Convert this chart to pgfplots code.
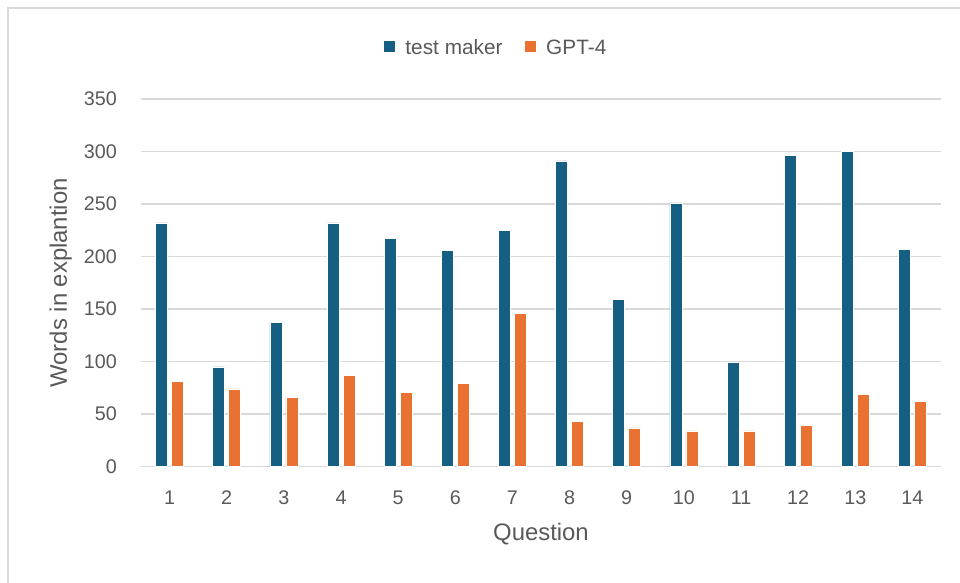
\documentclass[border=0pt]{standalone}
\usepackage{fontspec}
\setmainfont{Liberation Sans}
\usepackage{pgfplots}
\pgfplotsset{compat=1.18}
\definecolor{tmblue}{HTML}{156082}
\definecolor{gptorange}{HTML}{E97132}
\definecolor{gridgray}{HTML}{D9D9D9}
\definecolor{textgray}{HTML}{595959}
\begin{document}
\begin{tikzpicture}
% page frame, 1px = 0.75pt
\path[use as bounding box] (-105.75pt,-87.2pt) rectangle (614.25pt,350pt);
\draw[gridgray, line width=1.5pt] (-100.1pt,-87.2pt) -- (-100.1pt,344pt) -- (614.25pt,344pt);
\begin{axis}[
    at={(0,0)}, anchor=south west,
    scale only axis, width=600pt, height=275.75pt,
    ybar=3pt, bar width=9pt,
    xmin=0.5, xmax=14.5, ymin=0, ymax=350,
    xtick={1,...,14}, ytick={0,50,...,350},
    axis line style={draw=none},
    major tick length=0pt,
    ymajorgrids, grid style={gridgray, line width=1.2pt},
    /pgf/number format/assume math mode=true,
    tick label style={text=textgray, font=\fontsize{14.8}{17}\selectfont},
    xticklabel style={anchor=base, yshift=-28pt, inner sep=0pt},
    yticklabel style={anchor=east, xshift=-18pt, inner sep=0pt},
    xlabel={Question},
    xlabel style={at={(axis description cs:0.5,-0.202)}, anchor=base, text=textgray, font=\fontsize{17.9}{21}\selectfont},
    ylabel={Words in explantion},
    ylabel style={at={(axis description cs:-0.0925,0.5)}, anchor=base, text=textgray, font=\fontsize{17.9}{21}\selectfont},
    legend columns=2,
    legend cell align=left,
    legend style={at={(axis description cs:0.443,1.139)}, anchor=center,
        draw=none, fill=none, inner sep=0pt, outer sep=0pt,
        text=textgray, font=\fontsize{15.6}{19}\selectfont,
        nodes={inner sep=0pt},
        /tikz/every odd column/.append style={column sep=7.5pt},
        /tikz/every even column/.append style={column sep=17pt}},
    legend image code/.code={\fill[#1, draw=none] (0pt,-3.3pt) rectangle (8.25pt,4.95pt);},
]
\addplot[fill=tmblue, draw=white, line width=0.4pt] coordinates {
    (1,232) (2,95) (3,137) (4,232) (5,217) (6,206) (7,225)
    (8,291) (9,159) (10,251) (11,99) (12,296) (13,300) (14,207)};
\addplot[fill=gptorange, draw=white, line width=0.4pt] coordinates {
    (1,81) (2,74) (3,66) (4,87) (5,71) (6,79) (7,146)
    (8,43) (9,37) (10,34) (11,34) (12,39) (13,69) (14,62)};
\legend{test maker, GPT-4}
\end{axis}
\end{tikzpicture}
\end{document}
